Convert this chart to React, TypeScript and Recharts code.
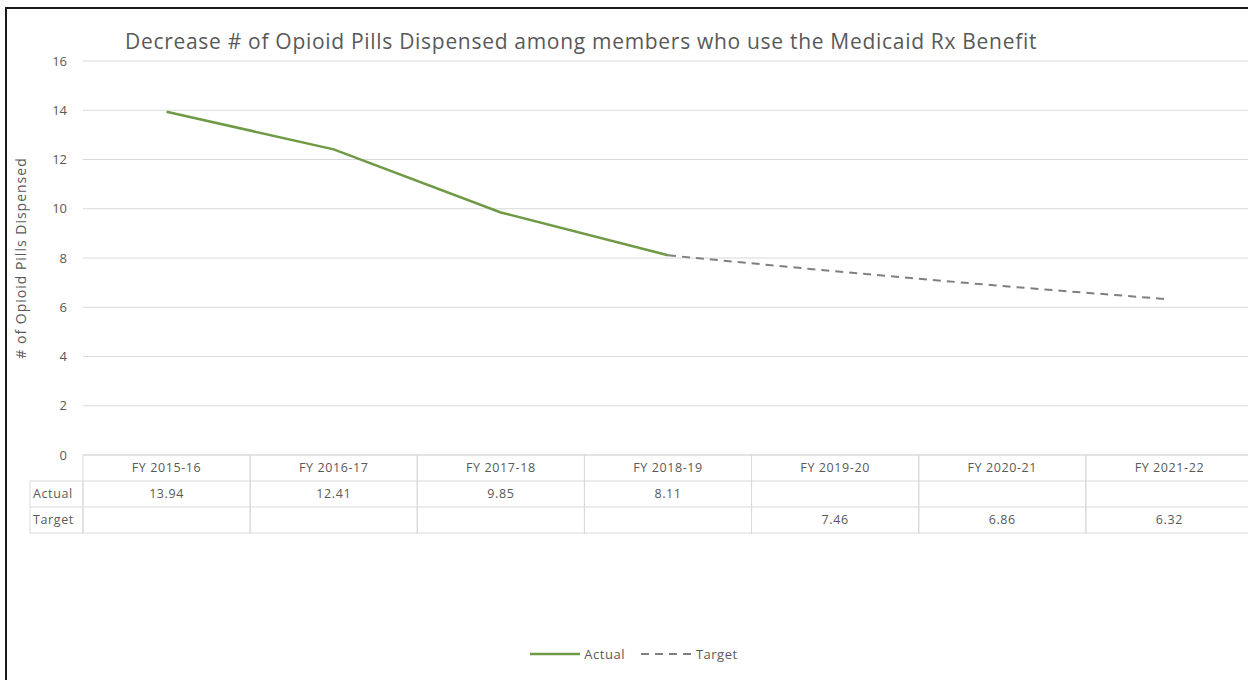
import React from "react";
import {
  LineChart,
  Line,
  XAxis,
  YAxis,
  CartesianGrid,
  Legend,
} from "recharts";

const years = [
  "FY 2015-16",
  "FY 2016-17",
  "FY 2017-18",
  "FY 2018-19",
  "FY 2019-20",
  "FY 2020-21",
  "FY 2021-22",
];
const actual = [13.94, 12.41, 9.85, 8.11, null, null, null];
// target line starts from the last actual value so the two lines join
const target = [null, null, null, 8.11, 7.46, 6.86, 6.32];
const yTicks = [0, 2, 4, 6, 8, 10, 12, 14, 16];

const TITLE =
  "Decrease # of Opioid Pills Dispensed among members who use the Medicaid Rx Benefit";

const GREEN = "#6f9a45";
const GREY = "#7f7f7f";
const TEXT = "#595959";
const LINE = "#d9d9d9";
const FONT = "'Open Sans', 'Liberation Sans', sans-serif";

const PLOT_W = 1170;
const COL_W = PLOT_W / years.length;
const ROW_H = 26;
const LABEL_W = 53;

const data = years.map((year, i) => ({
  year,
  actual: actual[i],
  target: target[i],
}));

function TableTick(props: any) {
  const { x, y, index } = props;
  const i = index ?? props.payload?.index ?? 0;
  const left = x - COL_W / 2;
  const a = actual[i];
  const t = a == null ? target[i] : null;
  return (
    <g fontFamily={FONT} fontSize={12.5} fill={TEXT} letterSpacing={0.6}>
      <rect x={left} y={y} width={COL_W} height={ROW_H * 3} fill="none" stroke={LINE} />
      <line x1={left} x2={left + COL_W} y1={y + ROW_H} y2={y + ROW_H} stroke={LINE} />
      <line x1={left} x2={left + COL_W} y1={y + ROW_H * 2} y2={y + ROW_H * 2} stroke={LINE} />
      <text x={x} y={y + ROW_H / 2 + 4} textAnchor="middle">{years[i]}</text>
      {a != null && (
        <text x={x} y={y + ROW_H * 1.5 + 4} textAnchor="middle">{a.toFixed(2)}</text>
      )}
      {t != null && (
        <text x={x} y={y + ROW_H * 2.5 + 4} textAnchor="middle">{t.toFixed(2)}</text>
      )}
      {i === 0 && (
        <g>
          <rect x={left - LABEL_W} y={y + ROW_H} width={LABEL_W} height={ROW_H * 2} fill="none" stroke={LINE} />
          <line x1={left - LABEL_W} x2={left} y1={y + ROW_H * 2} y2={y + ROW_H * 2} stroke={LINE} />
          <text x={left - LABEL_W + 3} y={y + ROW_H * 1.5 + 4}>Actual</text>
          <text x={left - LABEL_W + 3} y={y + ROW_H * 2.5 + 4}>Target</text>
        </g>
      )}
    </g>
  );
}

function LegendContent() {
  return (
    <div
      style={{
        display: "flex",
        justifyContent: "center",
        alignItems: "center",
        fontFamily: FONT,
        fontSize: 13,
        letterSpacing: 0.5,
        color: TEXT,
      }}
    >
      <svg width={50} height={10}>
        <line x1={0} x2={50} y1={5} y2={5} stroke={GREEN} strokeWidth={2.5} />
      </svg>
      <span style={{ marginLeft: 4, marginRight: 16 }}>Actual</span>
      <svg width={51} height={10}>
        <line x1={0} x2={51} y1={5} y2={5} stroke={GREY} strokeWidth={2} strokeDasharray="8 6" />
      </svg>
      <span style={{ marginLeft: 4 }}>Target</span>
    </div>
  );
}

export default function App() {
  return (
    <div
      style={{
        position: "absolute",
        left: 0,
        top: 0,
        width: 1248,
        height: 680,
        overflow: "hidden",
        background: "#fff",
      }}
    >
      <div
        style={{
          position: "absolute",
          left: 5,
          top: 7,
          width: 1300,
          height: 671,
          borderLeft: "2px solid #1a1a1a",
          borderTop: "2px solid #1a1a1a",
          borderBottom: "1px solid #e0e0e0",
        }}
      />
      <div
        style={{
          position: "absolute",
          left: 125,
          top: 27,
          fontFamily: FONT,
          fontSize: 21,
          letterSpacing: 0.7,
          color: TEXT,
          whiteSpace: "nowrap",
        }}
      >
        {TITLE}
      </div>
      <div style={{ position: "absolute", left: 0, top: 0 }}>
        <LineChart
          width={1260}
          height={680}
          data={data}
          margin={{ top: 61, right: 7, bottom: 148, left: 23 }}
        >
          <CartesianGrid vertical={false} stroke={LINE} />
          <XAxis
            dataKey="year"
            height={77}
            axisLine={false}
            tickLine={false}
            tickSize={0}
            tickMargin={0}
            interval={0}
            padding={{ left: COL_W / 2, right: COL_W / 2 }}
            tick={<TableTick />}
          />
          <YAxis
            width={60}
            domain={[0, 16]}
            ticks={yTicks}
            axisLine={false}
            tickLine={false}
            tickSize={0}
            tickMargin={16}
            tick={{ fill: TEXT, fontSize: 13, fontFamily: FONT }}
            label={{
              content: () => (
                <text
                  x={26}
                  y={258}
                  transform="rotate(-90 26 258)"
                  textAnchor="middle"
                  fill={TEXT}
                  fontSize={14}
                  letterSpacing={1}
                  fontFamily={FONT}
                >
                  # of Opioid Pills Dispensed
                </text>
              ),
            }}
          />
          <Legend
            verticalAlign="middle"
            align="center"
            layout="horizontal"
            wrapperStyle={{ top: 645, left: 0, width: 1268 }}
            content={<LegendContent />}
          />
          <Line
            dataKey="actual"
            stroke={GREEN}
            strokeWidth={2.5}
            dot={false}
            activeDot={false}
            isAnimationActive={false}
          />
          <Line
            dataKey="target"
            stroke={GREY}
            strokeWidth={2}
            strokeDasharray="8 6"
            dot={false}
            activeDot={false}
            isAnimationActive={false}
          />
        </LineChart>
      </div>
    </div>
  );
}
